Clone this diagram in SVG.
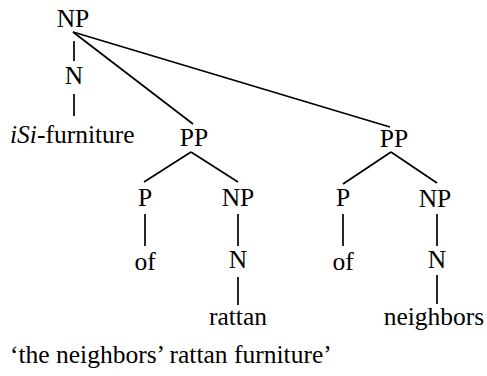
<svg xmlns="http://www.w3.org/2000/svg" width="487" height="376" viewBox="0 0 487 376">
<style>
text{font-family:"Liberation Serif","Times New Roman","DejaVu Serif",serif;font-size:25.5px;fill:#000}
.c{text-anchor:middle}
.e line{stroke:#000;stroke-width:1.7}
</style>
<rect width="487" height="376" fill="#fff"/>
<g id="edges" class="e">
<line x1="74" y1="41" x2="74" y2="61"/>
<line x1="74" y1="94" x2="74" y2="116"/>
<line x1="73" y1="32" x2="193" y2="124"/>
<line x1="73" y1="32" x2="390" y2="127"/>
<line x1="191" y1="152" x2="144" y2="182"/>
<line x1="191" y1="152" x2="238" y2="182"/>
<line x1="391" y1="152" x2="343" y2="184"/>
<line x1="391" y1="152" x2="437" y2="183"/>
<line x1="145" y1="214" x2="145" y2="246"/>
<line x1="238" y1="214" x2="238" y2="246"/>
<line x1="238" y1="277" x2="238" y2="305"/>
<line x1="343" y1="214" x2="343" y2="246"/>
<line x1="437" y1="214" x2="437" y2="246"/>
<line x1="437" y1="275" x2="437" y2="304"/>
</g>
<g id="np-root"><text class="c" x="73" y="27">NP</text></g>
<g id="n-root"><text class="c" x="74" y="84">N</text></g>
<g id="isi"><text x="10" y="143"><tspan font-style="italic">iSi</tspan>-furniture</text></g>
<g id="pp1"><text class="c" x="194" y="146">PP</text></g>
<g id="pp2"><text class="c" x="394" y="147">PP</text></g>
<g id="p1"><text class="c" x="145" y="206">P</text></g>
<g id="of1"><text class="c" x="145" y="270">of</text></g>
<g id="np1"><text class="c" x="238" y="206">NP</text></g>
<g id="n1"><text class="c" x="238" y="268">N</text></g>
<g id="rattan"><text class="c" x="238" y="325">rattan</text></g>
<g id="p2"><text class="c" x="343" y="206">P</text></g>
<g id="of2"><text class="c" x="343" y="270">of</text></g>
<g id="np2"><text class="c" x="435" y="207">NP</text></g>
<g id="n2"><text class="c" x="437" y="268">N</text></g>
<g id="neighbors"><text class="c" x="434" y="325">neighbors</text></g>
<g id="caption"><text x="10" y="363">‘the neighbors’ rattan furniture’</text></g>
</svg>
